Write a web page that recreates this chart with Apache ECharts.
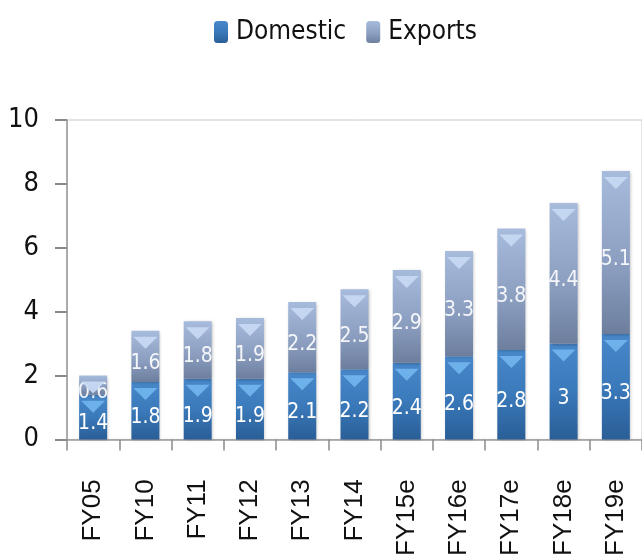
<!DOCTYPE html>
<html><head><meta charset="utf-8">
<script src="https://cdn.jsdelivr.net/npm/echarts@6/dist/echarts.min.js"></script>
<style>html,body{margin:0;padding:0;background:#fff}#c{width:642px;height:559px}</style>
</head><body><div id="c"></div>
<script>
const categories = ['FY05','FY10','FY11','FY12','FY13','FY14','FY15e','FY16e','FY17e','FY18e','FY19e'];
const domestic = [1.4,1.8,1.9,1.9,2.1,2.2,2.4,2.6,2.8,3,3.3];
const exportsV = [0.6,1.6,1.8,1.9,2.2,2.5,2.9,3.3,3.8,4.4,5.1];
const yTicks = {min:0, max:10, interval:2};

const narrow = '"Liberation Sans Narrow","DejaVu Sans Condensed","Liberation Sans",sans-serif';
const totals = domestic.map((d,i)=> +(d + exportsV[i]).toFixed(2));

function grad(stops){return new echarts.graphic.LinearGradient(0,0,0,1,stops.map(s=>({offset:s[0],color:s[1]})));}
const domColor = grad([[0,'#4888ca'],[0.5,'#3a79ba'],[1,'#2a5e97']]);
const expColor = grad([[0,'#a7bbdc'],[0.6,'#8a9dbf'],[1,'#6d7e9d']]);
const tri = 'path://M0,0 L10,0 L5,5 Z';

const chart = echarts.init(document.getElementById('c'));
chart.setOption({
  animation:false,
  legend:{
    data:['Domestic','Exports'], left:209, top:14, itemWidth:14, itemHeight:22, itemGap:20,
    textStyle:{fontFamily:narrow, fontSize:26, color:'#111', padding:[0,0,0,3]}
  },
  grid:{left:67, top:120, width:583, bottom:117, show:true, borderColor:'#c8c8c8', borderWidth:1},
  xAxis:{
    type:'category', data:categories, boundaryGap:true,
    axisLine:{lineStyle:{color:'#9a9a9a', width:1.5}},
    axisTick:{show:true, length:11, lineStyle:{color:'#8a8a8a', width:1.5}},
    axisLabel:{rotate:90, margin:40, fontFamily:'"Liberation Sans",Arial,sans-serif', fontSize:26, color:'#111', interval:0}
  },
  yAxis:{
    type:'value', min:yTicks.min, max:yTicks.max, interval:yTicks.interval,
    splitLine:{show:false},
    axisLine:{show:true, lineStyle:{color:'#9a9a9a', width:1.5}},
    axisTick:{show:true, length:12, lineStyle:{color:'#8a8a8a', width:2}},
    axisLabel:{margin:28, fontFamily:narrow, fontSize:27, color:'#111'}
  },
  series:[
    {name:'Domestic', type:'bar', stack:'t', data:domestic, barWidth:28, barGap:'-100%',
     itemStyle:{color:domColor, shadowColor:'rgba(0,0,0,0.25)', shadowBlur:3, shadowOffsetX:1, shadowOffsetY:1},
     label:{show:true, position:'inside', offset:[0,7], color:'#fff', fontFamily:narrow, fontSize:21}},
    {name:'Exports', type:'bar', stack:'t', data:exportsV, barWidth:28, barGap:'-100%',
     itemStyle:{color:expColor, shadowColor:'rgba(0,0,0,0.25)', shadowBlur:3, shadowOffsetX:1, shadowOffsetY:1},
     label:{show:true, position:'inside', offset:[0,7], color:'rgba(255,255,255,0.9)', fontFamily:narrow, fontSize:21}},
    {type:'pictorialBar', data:domestic, symbol:tri, symbolSize:[24,12], symbolPosition:'end', symbolOffset:[0,'50%'],
     barGap:'-100%', itemStyle:{color:'#72b6ee', opacity:0.9}, silent:true, z:3},
    {type:'pictorialBar', data:totals, symbol:tri, symbolSize:[24,12], symbolPosition:'end', symbolOffset:[0,'50%'],
     barGap:'-100%', itemStyle:{color:'#c6d8f2', opacity:0.95}, silent:true, z:3}
  ]
});
</script></body></html>
